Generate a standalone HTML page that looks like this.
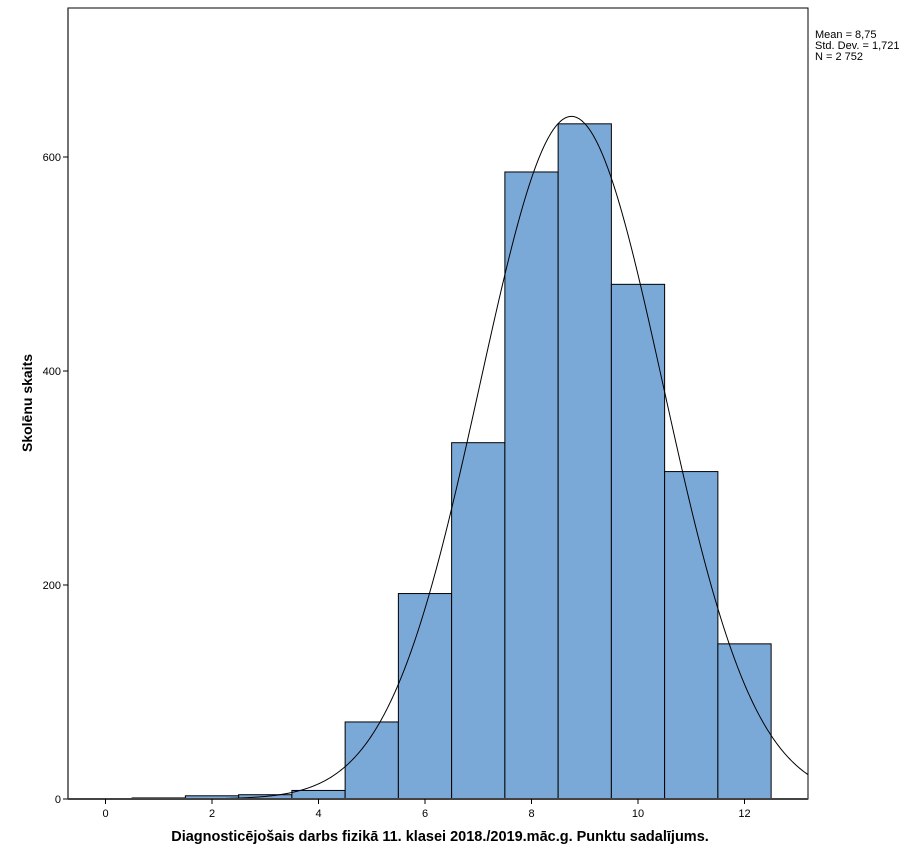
<!DOCTYPE html>
<html><head><meta charset="utf-8"><style>
body{margin:0;background:#fff;}
svg{display:block;font-family:"Liberation Sans",sans-serif;}
</style></head><body>
<svg id="s" width="903" height="861" xmlns="http://www.w3.org/2000/svg">
<rect x="0" y="0" width="903" height="861" fill="#fff"/>
<g id="bars"></g>
<path id="curve" fill="none" stroke="#000" stroke-width="1"/>
<rect x="68" y="8" width="740" height="791" fill="none" stroke="#000" stroke-width="1"/>
<line x1="68" y1="799" x2="808" y2="799" stroke="#444" stroke-width="2"/>
<line x1="68" y1="8" x2="68" y2="799" stroke="#444" stroke-width="1.5"/>
<g font-size="11" fill="#000">
<text x="815" y="38">Mean = 8,75</text>
<text x="815" y="49">Std. Dev. = 1,721</text>
<text x="815" y="60">N = 2 752</text>
</g>
<g id="ticks" font-size="11"></g>
<text x="440" y="841" font-size="14.5" font-weight="bold" text-anchor="middle">Diagnosticējošais darbs fizikā 11. klasei 2018./2019.māc.g. Punktu sadalījums.</text>
<text transform="translate(32,403) rotate(-90)" font-size="14" font-weight="bold" text-anchor="middle">Skolēnu skaits</text>
</svg>
<script>
const X=v=>105.5+53.25*v, Y=c=>799-1.07*c, NS="http://www.w3.org/2000/svg";
const counts=[1,3,4,8,72,192,333,586,631,481,306,145];
const g=document.getElementById('bars');
counts.forEach((c,i)=>{const v=i+1;const r=document.createElementNS(NS,'rect');
r.setAttribute('x',X(v-0.5));r.setAttribute('width',53.25);r.setAttribute('y',Y(c));r.setAttribute('height',799-Y(c));
r.setAttribute('fill','#7ba9d7');r.setAttribute('stroke','#000');r.setAttribute('stroke-width','1');g.appendChild(r);});
let d='';for(let px=68;px<=808;px+=1){const v=(px-105.5)/53.25;const c=2752/(1.721*Math.sqrt(2*Math.PI))*Math.exp(-0.5*((v-8.75)/1.721)**2);d+=(d?'L':'M')+px+','+Y(c).toFixed(2);}
document.getElementById('curve').setAttribute('d',d);
const t=document.getElementById('ticks');
function add(tag,a,txt){const e=document.createElementNS(NS,tag);for(const k in a)e.setAttribute(k,a[k]);if(txt!=null)e.textContent=txt;t.appendChild(e);}
for(let v=0;v<=12;v+=2){add('line',{x1:X(v),x2:X(v),y1:799,y2:804,stroke:'#000'});add('text',{x:X(v),y:817,'text-anchor':'middle'},v);}
for(let c=0;c<=600;c+=200){add('line',{x1:63,x2:68,y1:Y(c),y2:Y(c),stroke:'#000'});add('text',{x:61,y:Y(c)+4,'text-anchor':'end'},c);}
</script>
</body></html>
